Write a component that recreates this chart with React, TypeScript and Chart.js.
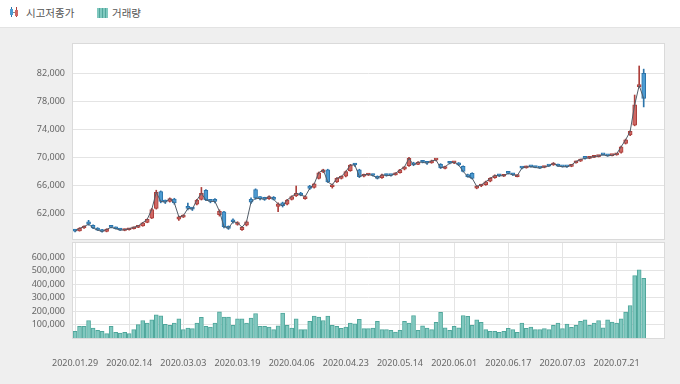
import React, { useEffect, useRef } from 'react';
import { Chart, registerables } from 'chart.js';

Chart.register(...registerables);

const dates = [
  '2020.01.29','2020.01.30','2020.01.31','2020.02.03','2020.02.04','2020.02.05','2020.02.06','2020.02.07','2020.02.10','2020.02.11',
  '2020.02.12','2020.02.13','2020.02.14','2020.02.17','2020.02.18','2020.02.19','2020.02.20','2020.02.21','2020.02.24','2020.02.25',
  '2020.02.26','2020.02.27','2020.02.28','2020.03.02','2020.03.03','2020.03.04','2020.03.05','2020.03.06','2020.03.09','2020.03.10',
  '2020.03.11','2020.03.12','2020.03.13','2020.03.16','2020.03.17','2020.03.18','2020.03.19','2020.03.20','2020.03.23','2020.03.24',
  '2020.03.25','2020.03.26','2020.03.27','2020.03.30','2020.03.31','2020.04.01','2020.04.02','2020.04.03','2020.04.06','2020.04.07',
  '2020.04.08','2020.04.09','2020.04.10','2020.04.13','2020.04.14','2020.04.16','2020.04.17','2020.04.20','2020.04.21','2020.04.22',
  '2020.04.23','2020.04.24','2020.04.27','2020.04.28','2020.04.29','2020.05.04','2020.05.06','2020.05.07','2020.05.08','2020.05.11',
  '2020.05.12','2020.05.13','2020.05.14','2020.05.15','2020.05.18','2020.05.19','2020.05.20','2020.05.21','2020.05.22','2020.05.25',
  '2020.05.26','2020.05.27','2020.05.28','2020.05.29','2020.06.01','2020.06.02','2020.06.03','2020.06.04','2020.06.05','2020.06.08',
  '2020.06.09','2020.06.10','2020.06.11','2020.06.12','2020.06.15','2020.06.16','2020.06.17','2020.06.18','2020.06.19','2020.06.22',
  '2020.06.23','2020.06.24','2020.06.25','2020.06.26','2020.06.29','2020.06.30','2020.07.01','2020.07.02','2020.07.03','2020.07.06',
  '2020.07.07','2020.07.08','2020.07.09','2020.07.10','2020.07.13','2020.07.14','2020.07.15','2020.07.16','2020.07.17','2020.07.20',
  '2020.07.21','2020.07.22','2020.07.23','2020.07.24','2020.07.27','2020.07.28','2020.07.29',
];

const openP = [
  59600,59500,59900,60800,60300,59900,59600,59400,60100,60000,
  59800,59550,59650,59800,60000,60200,60700,61300,62700,65100,
  63800,63700,64050,61150,61450,63000,62700,63300,64000,65300,
  63900,64000,61800,62200,60100,61000,60400,59650,60300,64000,
  65400,64300,64200,64100,64300,63000,63500,63300,64000,64500,
  64900,64100,65900,65700,67000,67900,68200,65800,66500,67000,
  67300,68100,69000,68200,67300,67450,67550,67300,67100,67550,
  67450,67500,67800,68300,68800,69200,69000,69350,69300,69200,
  69600,69000,68400,69300,69200,69200,68700,67500,67700,65600,
  65900,66100,66600,67100,67500,67300,67800,67650,67250,68500,
  68500,68700,68650,68550,68550,68800,68900,69000,68700,68700,
  68700,69200,69450,69900,69850,70000,70100,70400,70300,70250,
  70350,70700,72000,73200,74600,80100,82000,
];

const highP = [
  59700,59950,60200,61000,60350,59950,59700,59800,60200,60050,
  59850,59750,59850,60050,60250,60700,61200,62700,65300,65200,
  63900,64200,64150,61600,61800,63450,62800,64000,65700,65400,
  64000,64100,62500,62300,60200,61200,60800,60100,60900,64200,
  65500,64400,64300,64500,64400,63500,63600,64000,64500,65900,
  65000,64500,66000,66300,67900,68300,68300,66200,67100,67350,
  68050,69000,69100,68300,67600,67650,67600,67350,67600,67600,
  67500,67800,68300,68700,70000,69300,69400,69500,69350,69600,
  69700,69100,68750,69400,69400,69250,68800,67600,67800,65950,
  66150,66600,67100,67500,67550,67450,67900,67700,67500,68600,
  68750,68800,68700,68600,68700,68900,69250,69050,68750,68750,
  68950,69450,69750,69950,70000,70150,70250,70450,70350,70350,
  70550,71600,72600,73800,78900,83050,82600,
];

const lowP = [
  59350,59450,59850,60300,59800,59550,59300,59350,59900,59750,
  59550,59500,59600,59750,59950,60150,60650,61250,62600,63500,
  63400,63600,63300,61000,61400,62500,62400,63200,63900,63800,
  63500,63500,61600,59900,59700,60600,60300,59550,60200,63400,
  64000,63900,63850,64000,63900,62250,62900,63200,63900,64400,
  64500,64000,65400,65600,66900,67800,66400,65600,66400,66900,
  67200,68000,68700,67100,67200,67400,67300,66900,67000,67300,
  67300,67450,67750,68200,68700,68800,68950,69200,69000,69150,
  69500,68400,68350,69050,69100,68800,67900,67150,66900,65500,
  65800,66000,66500,67000,67250,67250,67600,67400,67200,68350,
  68450,68600,68500,68400,68500,68700,68850,68700,68600,68550,
  68650,69150,69400,69750,69800,69950,70050,70300,70150,70200,
  70300,70600,71900,73100,74500,80000,77200,
];

const closeP = [
  59450,59850,60100,60450,59900,59600,59400,59700,60000,59800,
  59600,59650,59800,60000,60200,60650,61150,62550,65000,63700,
  63600,64100,63500,61500,61650,62700,62600,63900,64850,63900,
  63700,63700,62300,60100,59850,60800,60650,60000,60800,63600,
  64150,64100,64000,64400,64000,63350,63100,63900,64400,64850,
  64600,64400,65550,66200,67800,68200,66500,66050,67000,67250,
  67950,68900,68900,67250,67500,67550,67400,67000,67500,67400,
  67400,67700,68200,68650,69850,68900,69300,69300,69150,69500,
  69600,68500,68650,69150,69300,68900,68000,67250,67000,65850,
  66050,66500,67000,67400,67350,67400,67700,67500,67400,68450,
  68650,68650,68550,68450,68650,68750,69150,68750,68650,68650,
  68900,69400,69700,69850,69950,70100,70200,70350,70200,70300,
  70500,71500,72500,73700,77500,80250,78400,
];

const volume = [
  49000,86000,86000,130000,74000,57000,49000,32000,86000,42000,
  37000,42000,32000,62000,99000,130000,111000,135000,172000,165000,
  101000,94000,111000,143000,62000,74000,69000,111000,153000,86000,
  81000,111000,195000,155000,155000,94000,143000,143000,111000,148000,
  182000,86000,86000,81000,62000,91000,185000,94000,74000,143000,
  62000,62000,123000,163000,155000,130000,163000,94000,86000,71000,
  81000,111000,106000,138000,69000,69000,74000,123000,62000,62000,
  57000,44000,57000,123000,111000,167000,57000,91000,74000,62000,
  116000,190000,76000,57000,86000,76000,167000,160000,94000,135000,
  116000,62000,49000,49000,42000,49000,71000,62000,42000,111000,
  71000,81000,62000,62000,69000,62000,94000,111000,69000,103000,
  79000,94000,123000,135000,94000,111000,130000,76000,135000,118000,
  111000,143000,192000,241000,463000,505000,443000,
];

const labelIndex = [0, 12, 24, 36, 48, 60, 72, 84, 96, 108, 120];
const priceTicks = [62000, 66000, 70000, 74000, 78000, 82000];
const volumeTicks = [100000, 200000, 300000, 400000, 500000, 600000];

const UP_FILL = '#cf6763';
const UP_EDGE = '#ad3f3b';
const DOWN_FILL = '#4c9bd2';
const DOWN_EDGE = '#2c74aa';
const LINE_COLOR = '#515c68';
const VOL_FILL = '#80c8bf';
const VOL_EDGE = '#4fa69b';
const GRID = '#e4e4e4';
const TICK_FONT = { family: "'Noto Sans', 'Noto Sans CJK KR', sans-serif", size: 9 };
const TICK_COLOR = '#666';

const X_MIN = -0.45;
const X_MAX = 130.5;

const plotFrame = {
  id: 'plotFrame',
  beforeDraw(chart: any) {
    const { ctx, chartArea: a } = chart;
    ctx.save();
    ctx.fillStyle = '#ffffff';
    ctx.fillRect(a.left, a.top, a.right - a.left, a.bottom - a.top);
    ctx.restore();
  },
  afterDraw(chart: any) {
    const { ctx, chartArea: a } = chart;
    ctx.save();
    ctx.strokeStyle = '#dadada';
    ctx.lineWidth = 1;
    ctx.strokeRect(a.left - 0.5, a.top - 0.5, a.right - a.left + 1, a.bottom - a.top + 1);
    ctx.restore();
  },
};

const fmt = (v: number) => Number(v).toLocaleString('en-US');

const noPad = (s: any) => {
  s.paddingTop = 0;
  s.paddingBottom = 0;
  s.paddingLeft = 0;
  s.paddingRight = 0;
};

export default function App() {
  const topRef = useRef<HTMLCanvasElement>(null);
  const botRef = useRef<HTMLCanvasElement>(null);

  useEffect(() => {
    const up = closeP.map((c, i) => c >= openP[i]);
    const topChart = new Chart(topRef.current as HTMLCanvasElement, {
      type: 'bar',
      data: {
        datasets: [
          {
            type: 'line',
            data: closeP.map((c, i) => ({ x: i, y: c })),
            borderColor: LINE_COLOR,
            borderWidth: 1,
            pointRadius: 0,
            tension: 0,
            order: 0,
          } as any,
          {
            type: 'bar',
            data: openP.map((o, i) => ({ x: i, y: [o, closeP[i]] })),
            backgroundColor: up.map((u) => (u ? UP_FILL : DOWN_FILL)),
            borderColor: up.map((u) => (u ? UP_EDGE : DOWN_EDGE)),
            borderWidth: 1,
            borderSkipped: false,
            barThickness: 4,
            minBarLength: 2,
            grouped: false,
            order: 1,
          } as any,
          {
            type: 'bar',
            data: lowP.map((l, i) => ({ x: i, y: [l, highP[i]] })),
            backgroundColor: up.map((u) => (u ? UP_EDGE : DOWN_EDGE)),
            barThickness: 1,
            grouped: false,
            order: 2,
          } as any,
        ],
      },
      options: {
        animation: false,
        responsive: false,
        maintainAspectRatio: false,
        layout: { padding: { top: 16, right: 16, bottom: 2, left: 0 } },
        plugins: { legend: { display: false }, tooltip: { enabled: false } },
        scales: {
          x: { type: 'linear', min: X_MIN, max: X_MAX, display: false, offset: false },
          y: {
            min: 58330,
            max: 86190,
            afterBuildTicks: (s: any) => { s.ticks = priceTicks.map((v) => ({ value: v })); },
            afterFit: (s: any) => { s.width = 73; noPad(s); },
            grid: { color: GRID, drawTicks: false },
            border: { display: false },
            ticks: { padding: 8, font: TICK_FONT, color: TICK_COLOR, callback: (v: any) => fmt(v) },
          },
        },
      } as any,
      plugins: [plotFrame],
    });

    const botChart = new Chart(botRef.current as HTMLCanvasElement, {
      type: 'bar',
      data: {
        datasets: [
          {
            data: volume.map((v, i) => ({ x: i, y: v })),
            backgroundColor: VOL_FILL,
            borderColor: VOL_EDGE,
            borderWidth: 1,
            barThickness: 4,
          } as any,
        ],
      },
      options: {
        animation: false,
        responsive: false,
        maintainAspectRatio: false,
        layout: { padding: { top: 2, right: 16, bottom: 0, left: 0 } },
        plugins: { legend: { display: false }, tooltip: { enabled: false } },
        scales: {
          x: {
            type: 'linear',
            min: X_MIN,
            max: X_MAX,
            offset: false,
            afterBuildTicks: (s: any) => { s.ticks = labelIndex.map((v) => ({ value: v })); },
            afterFit: (s: any) => { s.height = 46; noPad(s); },
            grid: { color: GRID, drawTicks: false, offset: false },
            border: { display: false },
            ticks: {
              padding: 20,
              autoSkip: false,
              maxRotation: 0,
              font: TICK_FONT,
              color: TICK_COLOR,
              callback: (v: any) => dates[v] ?? '',
            },
          },
          y: {
            min: 0,
            max: 705000,
            afterBuildTicks: (s: any) => { s.ticks = volumeTicks.map((v) => ({ value: v })); },
            afterFit: (s: any) => { s.width = 73; noPad(s); },
            grid: { color: GRID, drawTicks: false },
            border: { display: false },
            ticks: { padding: 8, font: TICK_FONT, color: TICK_COLOR, callback: (v: any) => fmt(v) },
          },
        },
      } as any,
      plugins: [plotFrame],
    });

    return () => {
      topChart.destroy();
      botChart.destroy();
    };
  }, []);

  const legendFont = "'Noto Sans CJK KR', 'Noto Sans', sans-serif";

  return (
    <div style={{ position: 'fixed', left: 0, top: 0, width: 680, height: 384, background: '#ffffff', overflow: 'hidden' }}>
      {/* legend */}
      <div style={{ position: 'absolute', left: 11, top: 7, width: 1, height: 10, background: DOWN_EDGE }} />
      <div style={{ position: 'absolute', left: 10, top: 9, width: 3, height: 6, background: DOWN_FILL }} />
      <div style={{ position: 'absolute', left: 16, top: 7, width: 1, height: 10, background: UP_EDGE }} />
      <div style={{ position: 'absolute', left: 15, top: 10, width: 3, height: 6, background: UP_FILL }} />
      <div style={{ position: 'absolute', left: 13, top: 12, width: 2, height: 1, background: '#888' }} />
      <div style={{ position: 'absolute', left: 26, top: 5, fontFamily: legendFont, fontSize: 10.5, lineHeight: '16px', color: '#555', whiteSpace: 'nowrap' }}>시고저종가</div>
      <div
        style={{
          position: 'absolute', left: 97, top: 8, width: 11, height: 10,
          background: `repeating-linear-gradient(90deg, ${VOL_FILL} 0px, ${VOL_FILL} 2px, ${VOL_EDGE} 2px, ${VOL_EDGE} 3px)`,
        }}
      />
      <div style={{ position: 'absolute', left: 112, top: 5, fontFamily: legendFont, fontSize: 10.5, lineHeight: '16px', color: '#555', whiteSpace: 'nowrap' }}>거래량</div>
      {/* panel background */}
      <div style={{ position: 'absolute', left: 0, top: 27, width: 680, height: 357, background: '#efefef', borderTop: '1px solid #e3e3e3' }} />
      <canvas ref={topRef} width={680} height={213} style={{ position: 'absolute', left: 0, top: 28, width: 680, height: 213 }} />
      <canvas ref={botRef} width={680} height={143} style={{ position: 'absolute', left: 0, top: 241, width: 680, height: 143 }} />
    </div>
  );
}
